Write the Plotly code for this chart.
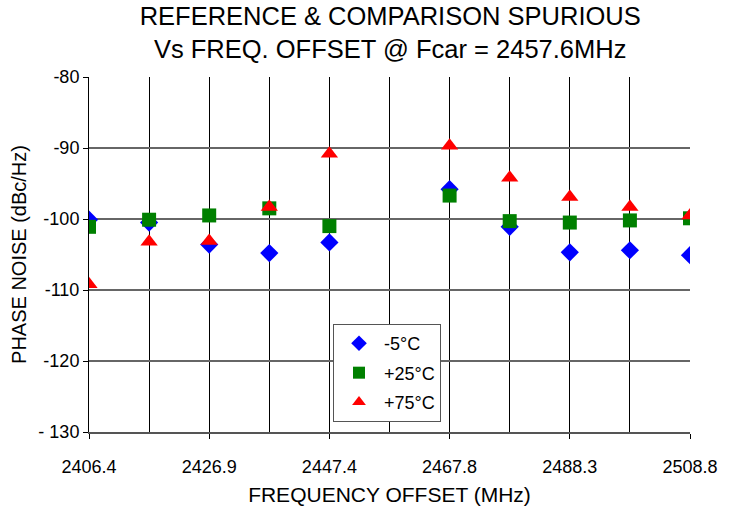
import plotly.graph_objects as go

freqs = [2406.4, 2416.64, 2426.88, 2437.12, 2447.36, 2467.84, 2478.08, 2488.32, 2498.56, 2508.8]
m5c = [-100.1, -100.5, -103.6, -104.8, -103.3, -95.8, -101.1, -104.7, -104.4, -105.1]
p25c = [-101.1, -100.1, -99.5, -98.5, -101.0, -96.7, -100.3, -100.5, -100.2, -99.9]
p75c = [-109.2, -103.2, -103.1, -98.3, -90.8, -89.7, -94.2, -96.9, -98.3, -99.5]

x_tickvals = [2406.4, 2426.88, 2447.36, 2467.84, 2488.32, 2508.8]
x_ticktext = ["2406.4", "2426.9", "2447.4", "2467.8", "2488.3", "2508.8"]
x_gridvals = [2406.4 + 10.24 * i for i in range(11)]
y_tickvals = [-80, -90, -100, -110, -120, -130]
y_ticktext = ["-80", "-90", "-100", "-110", "-120", "- 130"]

FONT = "Liberation Sans, Arial, sans-serif"

fig = go.Figure()
fig.add_trace(go.Scatter(x=freqs, y=m5c, mode="markers", name="-5°C", legendgroup="a",
                         marker=dict(symbol="diamond", size=14, color="#0000FF")))
fig.add_trace(go.Scatter(x=freqs, y=p25c, mode="markers", name="+25°C", legendgroup="b",
                         marker=dict(symbol="square", size=14, color="#008000")))
fig.add_trace(go.Scatter(x=freqs, y=p75c, mode="markers", name="+75°C", legendgroup="c",
                         marker=dict(symbol="triangle-up", size=15, color="#FF0000")))

fig.update_layout(
    width=739, height=508,
    margin=dict(l=89, r=49, t=77, b=76, autoexpand=False),
    paper_bgcolor="white", plot_bgcolor="white",
    font=dict(family=FONT, color="black", size=16),
    title=dict(text="REFERENCE & COMPARISON SPURIOUS<br>Vs FREQ. OFFSET @ Fcar = 2457.6MHz",
               x=0.528, xanchor="center", yref="container", y=1 - 25 / 508, yanchor="middle",
               font=dict(family=FONT, size=25.5, color="black")),
    showlegend=True,
    legend=dict(x=0.406, y=0.304, xanchor="left", yanchor="top",
                bgcolor="white", bordercolor="#555555", borderwidth=1,
                font=dict(family=FONT, size=18, color="black"),
                itemsizing="constant", tracegroupgap=3, itemwidth=40),
)
fig.update_xaxes(
    range=[2406.4, 2508.8],
    tickmode="array", tickvals=x_tickvals, ticktext=x_ticktext,
    ticks="outside", ticklen=5, tickcolor="black",
    showgrid=False, zeroline=False, automargin=False,
    minor=dict(tickmode="array", tickvals=x_gridvals, showgrid=True, gridcolor="black", gridwidth=1),
    showline=True, linecolor="#555555", linewidth=2,
    ticklabelstandoff=12,
    title=dict(text="FREQUENCY OFFSET (MHz)", font=dict(family=FONT, size=21), standoff=12),
    tickfont=dict(family=FONT, size=18),
)
fig.update_yaxes(
    range=[-130, -80],
    tickmode="array", tickvals=y_tickvals, ticktext=y_ticktext,
    ticks="outside", ticklen=5, tickcolor="black",
    showgrid=True, gridcolor="#666666", gridwidth=2, zeroline=False, automargin=False,
    showline=True, linecolor="black", linewidth=1, mirror=False,
    title=dict(text="PHASE NOISE (dBc/Hz)", font=dict(family=FONT, size=20), standoff=6),
    tickfont=dict(family=FONT, size=18),
)

fig.write_html("out.html")
